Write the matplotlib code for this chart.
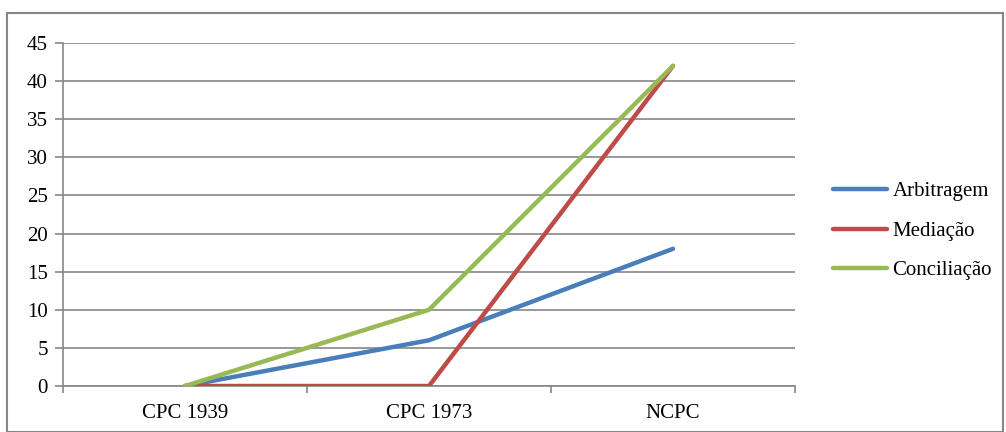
import matplotlib
matplotlib.use("Agg")
import matplotlib.pyplot as plt
from matplotlib.patches import Rectangle
from matplotlib.lines import Line2D

categories = ["CPC 1939", "CPC 1973", "NCPC"]
arbitragem = [0, 6, 18]
mediacao = [0, 0, 42]
conciliacao = [0, 10, 42]
series_names = ["Arbitragem", "Mediação", "Conciliação"]
colors = ["#4A7EBB", "#BE4B48", "#98B954"]
yticks = list(range(0, 50, 5))

plt.rcParams['font.family'] = ['Liberation Serif', 'DejaVu Serif']

W, H = 1006, 432
fig = plt.figure(figsize=(W / 100, H / 100), dpi=100)

# outer border
fig.patches.append(Rectangle((7 / W, 0), (1003 - 7) / W, (H - 13) / H,
                             transform=fig.transFigure, fill=False,
                             edgecolor="#868686", linewidth=1.5))

left, right, top, bottom = 63, 795, 43, 386
ax = fig.add_axes([left / W, 1 - bottom / H, (right - left) / W, (bottom - top) / H])

x = [0.5, 1.5, 2.5]
for vals, name, c in zip([arbitragem, mediacao, conciliacao], series_names, colors):
    ax.plot(x, vals, color=c, linewidth=3.2, solid_capstyle="round",
            solid_joinstyle="round", label=name, zorder=3)

fs = 15
ax.set_xlim(0, 3)
ax.set_ylim(0, 45)
ax.set_yticks(yticks)
ax.set_yticklabels([str(v) for v in yticks], fontsize=fs)
ax.set_xticks([0, 1, 2, 3], minor=False)
ax.set_xticklabels([])
ax.set_xticks(x, minor=True)
ax.set_xticklabels(categories, minor=True, fontsize=fs)
ax.tick_params(axis="x", which="minor", length=0, pad=13)
ax.tick_params(axis="x", which="major", length=5, direction="out", color="#868686", width=1.2)
ax.tick_params(axis="y", length=6, color="#868686", width=1.2, pad=5)
ax.grid(axis="y", color="#868686", linewidth=1.2, zorder=0)
for s in ["top", "right"]:
    ax.spines[s].set_visible(False)
for s in ["left", "bottom"]:
    ax.spines[s].set_color("#868686")
    ax.spines[s].set_linewidth(1.2)

handles = [Line2D([], [], color=c, linewidth=3.2, solid_capstyle="round") for c in colors]
fig.legend(handles, series_names, loc="center left",
           bbox_to_anchor=(833 / W, 1 - 231 / H), frameon=False, borderpad=0,
           borderaxespad=0, fontsize=fs, handlelength=2.6, handletextpad=0.25,
           labelspacing=0.95)

fig.savefig("out.png", dpi=100)
